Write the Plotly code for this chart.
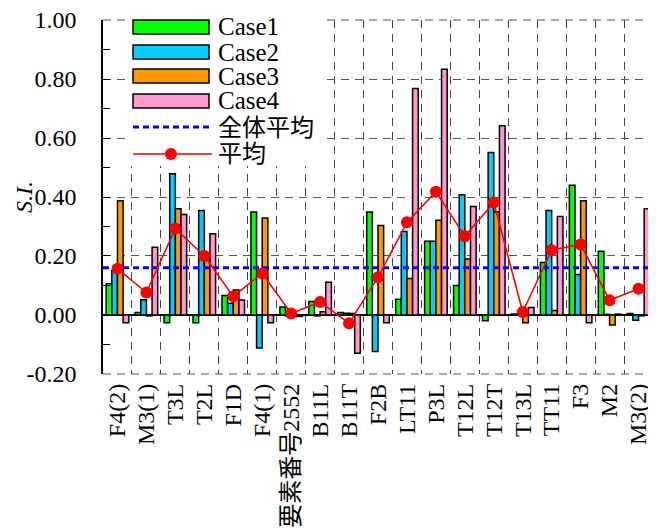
import plotly.graph_objects as go

categories = ["F4(2)", "M3(1)", "T3L", "T2L", "F1D", "F4(1)", "要素番号2552", "B11L", "B11T", "F2B",
              "LT11", "P3L", "T12L", "T12T", "T13L", "TT11", "F3", "M2", "M3(2)"]
case1 = [0.106, 0.008, -0.026, -0.026, 0.066, 0.349, 0.027, 0.046, 0.008, 0.349,
         0.053, 0.250, 0.100, -0.020, 0.003, 0.178, 0.440, 0.216, 0.005]
case2 = [0.150, 0.052, 0.479, 0.354, 0.040, -0.112, -0.004, -0.003, 0.006, -0.124,
         0.283, 0.250, 0.408, 0.551, 0.003, 0.354, 0.137, 0.002, -0.018]
case3 = [0.387, -0.003, 0.360, 0.197, 0.085, 0.329, -0.004, 0.011, 0.005, 0.303,
         0.124, 0.321, 0.190, 0.350, -0.026, 0.015, 0.387, -0.034, -0.003]
case4 = [-0.026, 0.230, 0.341, 0.275, 0.051, -0.026, -0.005, 0.111, -0.130, -0.026,
         0.768, 0.833, 0.368, 0.642, 0.025, 0.334, -0.026, 0.003, 0.360]
average = [0.157, 0.076, 0.293, 0.200, 0.063, 0.141, 0.005, 0.044, -0.028, 0.128,
           0.314, 0.418, 0.267, 0.381, 0.010, 0.220, 0.239, 0.050, 0.089]
overall_average = 0.160

y_tick_values = [-0.2, 0.0, 0.2, 0.4, 0.6, 0.8, 1.0]
y_tick_labels = ["-0.20", "0.00", "0.20", "0.40", "0.60", "0.80", "1.00"]

series_names = ["Case1", "Case2", "Case3", "Case4"]
series_values = [case1, case2, case3, case4]
series_colors = ["#00FF00", "#00CCFF", "#FF9900", "#FF99CC"]

FONT = "Liberation Serif, Noto Sans CJK JP, serif"

# page offset (browser body margin) and plot area in screen pixels
OFF = 8
L, R, T, B = 103, 653, 20, 374
W, H = R - L, B - T
FIG_W, FIG_H = 656 - OFF, 529 - OFF

def px(x):
    return (x - L) / W

def py(y):
    return (B - y) / H

xs = list(range(len(categories)))

fig = go.Figure()
for name, vals, col in zip(series_names, series_values, series_colors):
    fig.add_trace(go.Bar(x=xs, y=vals, name=name, marker=dict(color=col, line=dict(color="black", width=1.5)),
                         showlegend=False))

fig.add_trace(go.Scatter(x=[-0.5, len(categories) - 0.5], y=[overall_average, overall_average], mode="lines",
                         line=dict(color="#0000FF", width=3, dash="6px,4px"), showlegend=False))
fig.add_trace(go.Scatter(x=xs, y=average, mode="lines+markers",
                         line=dict(color="#FF0000", width=1.6),
                         marker=dict(color="#FF0000", size=12), showlegend=False))

shapes = []
annotations = []
# top and bottom border dashed
for yy in (0, 1):
    shapes.append(dict(type="line", xref="paper", yref="paper", x0=0, x1=1, y0=yy, y1=yy,
                       line=dict(color="#555", width=1, dash="8px,6px"), layer="below"))
# legend background
shapes.append(dict(type="rect", xref="paper", yref="paper", x0=px(125), x1=px(321), y0=py(166), y1=py(14),
                   fillcolor="white", line=dict(width=0), layer="above"))
rows = [27, 52, 76, 101]
for name, col, yc in zip(series_names, series_colors, rows):
    shapes.append(dict(type="rect", xref="paper", yref="paper", x0=px(133), x1=px(209),
                       y0=py(yc + 7), y1=py(yc - 7), fillcolor=col, line=dict(color="black", width=1.5),
                       layer="above"))
    annotations.append(dict(x=px(216), y=py(yc), xref="paper", yref="paper", text=name, showarrow=False,
                            xanchor="left", yanchor="middle", font=dict(family=FONT, size=25, color="black")))
shapes.append(dict(type="line", xref="paper", yref="paper", x0=px(133), x1=px(209), y0=py(127), y1=py(127),
                   line=dict(color="#0000FF", width=3, dash="6px,4px"), layer="above"))
annotations.append(dict(x=px(216), y=py(128), xref="paper", yref="paper", text="全体平均", showarrow=False,
                        xanchor="left", yanchor="middle", font=dict(family=FONT, size=24, color="black")))
shapes.append(dict(type="line", xref="paper", yref="paper", x0=px(133), x1=px(212), y0=py(154), y1=py(154),
                   line=dict(color="#FF0000", width=1.6), layer="above"))
shapes.append(dict(type="circle", xref="paper", yref="paper", x0=px(165), x1=px(177), y0=py(160), y1=py(148),
                   fillcolor="#FF0000", line=dict(color="#FF0000", width=0), layer="above"))
annotations.append(dict(x=px(216), y=py(154), xref="paper", yref="paper", text="平均", showarrow=False,
                        xanchor="left", yanchor="middle", font=dict(family=FONT, size=24, color="black")))
# y title
annotations.append(dict(x=px(24), y=py(197), xref="paper", yref="paper", text="<i>S.I.</i>", showarrow=False,
                        textangle=-90, xanchor="center", yanchor="middle",
                        font=dict(family=FONT, size=24, color="black")))

fig.update_layout(
    width=FIG_W, height=FIG_H,
    margin=dict(l=L - OFF, r=656 - R, t=T - OFF, b=529 - B, autoexpand=False),
    paper_bgcolor="white", plot_bgcolor="white",
    barmode="group", bargap=0.22, bargroupgap=0,
    showlegend=False,
    shapes=shapes, annotations=annotations,
    font=dict(family=FONT, size=23, color="black"),
)
fig.update_xaxes(
    range=[-0.5, len(categories) - 0.5], tickmode="array", tickvals=xs, ticktext=categories,
    tickangle=-90, ticks="", showgrid=False, zeroline=False, showline=False,
    ticklabelstandoff=4, ticklabeloverflow="allow",
    tickfont=dict(family=FONT, size=24, color="black"),
    minor=dict(tickmode="linear", tick0=0.5, dtick=1, showgrid=True, griddash="8px,6px",
               gridcolor="#444", gridwidth=1, ticks=""),
)
fig.update_yaxes(
    range=[-0.2002, 1.0002], tickmode="array", tickvals=y_tick_values, ticktext=y_tick_labels,
    showline=True, linecolor="black", linewidth=1.5,
    ticks="inside", ticklen=7, tickcolor="black", tickwidth=1.2,
    minor=dict(tickmode="linear", tick0=0, dtick=0.1, ticks="inside", ticklen=7, tickcolor="black",
               tickwidth=1.2, showgrid=False),
    showgrid=True, griddash="8px,6px", gridcolor="#555", gridwidth=1,
    zeroline=True, zerolinecolor="black", zerolinewidth=1.5,
    ticklabelstandoff=20, ticklabeloverflow="allow",
    tickfont=dict(family=FONT, size=24, color="black"),
)

fig.write_html("out.html")
